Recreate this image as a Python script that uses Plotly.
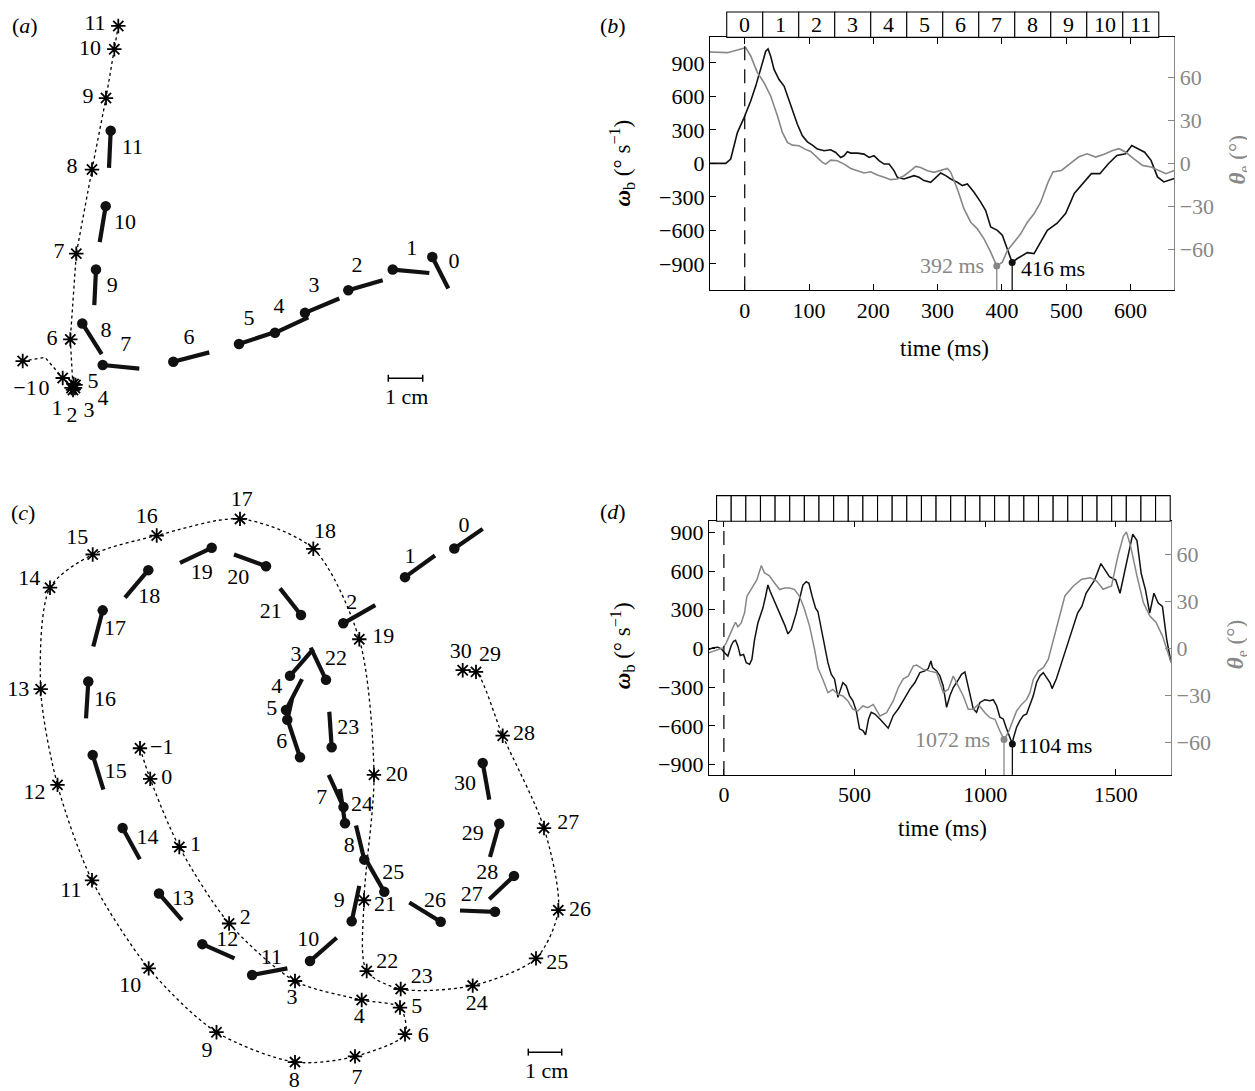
import plotly.graph_objects as go

W, H = 1255, 1091
OFF = 8  # the page body margin shifts the figure by this many pixels
FONT = "Liberation Serif"
GRAY = "#878787"
BLACK = "#111111"

# ---------------- panel (a): trajectory (px-like units of the panel) ----------------
star_a_id = [-1, 0, 1, 2, 3, 4, 5, 6, 7, 8, 9, 10, 11]
star_a_x = [22.7, 62.7, 71.5, 73.0, 75.0, 75.5, 73.5, 70.3, 76.3, 92.0, 106.0, 114.3, 118.3]
star_a_y = [361.0, 378.0, 388.0, 390.0, 388.0, 385.0, 384.0, 339.3, 253.3, 169.0, 97.3, 48.3, 25.0]
star_a_lx = [25, 44, 57, 72, 89, 103, 93, 52, 59, 72, 88, 90, 95]
star_a_ly = [390, 390, 410, 417, 412, 400, 383, 339, 252, 167, 97, 49, 24]
path_a_x = [22.7, 45.0, 62.7, 73.0, 70.3, 76.3, 92.0, 106.0, 114.3, 118.3]
path_a_y = [361.0, 357.3, 378.0, 387.0, 339.3, 253.3, 169.0, 97.3, 48.3, 25.0]

lol_a_id = list(range(12))
lol_a_dx = [432.3, 392.7, 348.3, 305.0, 275.0, 239.0, 173.3, 102.7, 82.3, 96.0, 105.7, 110.7]
lol_a_dy = [256.7, 269.3, 290.0, 312.7, 332.7, 344.0, 361.7, 365.0, 323.3, 269.3, 205.7, 130.0]
lol_a_ex = [448.3, 429.3, 382.7, 339.3, 308.3, 270.7, 209.3, 139.3, 101.7, 94.3, 99.7, 109.0]
lol_a_ey = [288.3, 272.7, 280.0, 298.3, 317.3, 333.3, 352.3, 368.7, 354.0, 305.0, 241.7, 167.3]
lol_a_lx = [454, 411.7, 357, 314, 279, 249, 189, 125.7, 106, 112.3, 125, 132.3]
lol_a_ly = [262, 249, 266, 286, 307, 319, 338, 345.7, 331.7, 286.7, 222.7, 148.3]

# ---------------- panel (c) ----------------
star_c_id = list(range(-1, 31))
star_c_x = [140.0, 150.2, 179.3, 229.1, 295.0, 361.7, 400.0, 405.0, 355.0, 295.0, 216.5, 148.7, 92.0,
            57.5, 40.7, 50.0, 92.7, 156.7, 240.0, 313.3, 359.3, 374.0, 364.0, 366.7, 400.7, 472.7,
            536.0, 558.3, 544.0, 502.7, 476.0, 462.7]
star_c_y = [749.3, 780.0, 848.3, 925.0, 982.7, 1001.7, 1009.3, 1036.0, 1058.3, 1064.0, 1034.0, 970.0,
            881.7, 786.0, 690.0, 588.3, 555.0, 536.0, 519.3, 549.3, 640.0, 776.0, 901.7, 972.7, 990.7,
            987.3, 960.0, 911.7, 829.3, 736.7, 672.7, 671.0]
star_c_lx = [161.7, 166.7, 195.4, 245.2, 292, 359.3, 416.7, 423.3, 357, 294.3, 206.9, 130.3, 70.9,
             34.5, 18.3, 29.3, 77.3, 146.7, 241.7, 325, 383.3, 396.7, 385, 387.3, 421.7, 476.7,
             557.3, 580, 568.3, 524, 490, 460.7]
star_c_ly = [749.3, 779.3, 846.7, 920, 1000, 1019.3, 1009.3, 1038.3, 1080, 1083.3, 1053.3, 988.3,
             893.3, 795, 691, 580, 539.3, 518.3, 500.7, 532.7, 638.3, 776.7, 906.7, 964, 979.3,
             1006.7, 965, 911.7, 825, 735, 656, 653.3]

lol_c_id = list(range(31))
lol_c_dx = [454.3, 405.0, 343.3, 290.0, 286.0, 287.3, 300.0, 343.5, 364.3, 351.7, 310.0, 252.1, 202.3,
            159.0, 122.6, 92.7, 88.3, 102.7, 148.3, 211.7, 266.0, 301.0, 326.0, 331.7, 345.0, 384.3,
            440.7, 495.0, 514.0, 499.3, 482.7]
lol_c_dy = [549.0, 577.7, 624.0, 676.7, 711.0, 720.7, 758.3, 808.3, 861.0, 922.7, 962.7, 976.7, 945.7,
            895.0, 829.3, 756.0, 682.3, 611.0, 570.7, 548.3, 566.7, 615.7, 680.7, 748.3, 824.5, 893.3,
            923.3, 913.3, 877.3, 825.0, 764.0]
lol_c_ex = [482.7, 435.0, 375.3, 313.3, 302.0, 292.0, 288.0, 328.7, 356.0, 359.3, 336.7, 287.4, 234.5,
            182.0, 139.8, 103.4, 86.0, 93.3, 125.0, 180.0, 234.0, 280.0, 310.7, 329.3, 340.0, 366.5,
            409.3, 460.0, 489.3, 490.0, 489.3]
lol_c_ey = [529.3, 556.0, 605.7, 650.0, 680.0, 700.0, 722.0, 776.0, 826.7, 887.3, 939.3, 970.0, 960.0,
            921.7, 860.7, 790.7, 719.3, 647.3, 598.3, 563.3, 555.0, 589.0, 648.3, 712.7, 790.0, 862.0,
            904.0, 912.0, 900.7, 858.3, 800.7]
lol_c_lx = [464, 410, 351.7, 296, 276.7, 271.7, 281.7, 321.7, 349.3, 339.3, 308.3, 271.3, 227.2,
            183.1, 147.5, 115.7, 105, 115, 149.3, 201.7, 238.3, 270.7, 336, 348.3, 362, 393.3,
            435, 471.7, 487.3, 472.7, 465]
lol_c_ly = [526.7, 558.3, 604, 656.7, 688.3, 710, 743.3, 800, 848.3, 902.7, 941.7, 960, 941.7,
            900.7, 839.3, 774, 701.7, 630.7, 598.3, 574.3, 579, 612.7, 660.7, 729.3, 806.7, 875,
            902.7, 897.3, 875, 836, 785.7]

# ---------------- panel (b): time series ----------------
frame_ms = 56
frames_b = list(range(12))
frames_d = list(range(31))

b_omega = [(-54, 0), (-29.5, 0), (-21.8, 39), (-11.4, 276), (-1, 410), (9.3, 558), (17.1, 692), (24.9, 855),
           (32.7, 1004), (36.3, 1025), (40.4, 959), (45.6, 841), (53.4, 751), (61.2, 692), (66.4, 603),
           (74.1, 484), (81.9, 350), (89.7, 247), (97.5, 193), (105.2, 163), (113, 128), (123.4, 113),
           (133.7, 122), (141.5, 98), (149.3, 53), (154.5, 68), (159.7, 104), (164.9, 92), (175.2, 92),
           (185.6, 83), (193.4, 53), (201.1, 68), (208.9, 24), (216.7, -6), (224.5, -6), (232.2, -65),
           (237.4, -125), (247.8, -140), (255.6, -125), (263.3, -110), (271.1, -125), (278.9, -154),
           (289.3, -169), (297, -125), (304.8, -86), (312.6, -110), (320.4, -140), (330.7, -169),
           (338.5, -199), (346.3, -184), (356.7, -258), (367, -347), (374.8, -422), (382.6, -570),
           (393, -600), (400.7, -644), (408.5, -763), (416, -888), (424, -852), (431.8, -823),
           (439.6, -799), (450, -808), (460.3, -704), (470.7, -600), (486, -536), (499.3, -447),
           (512.6, -269), (525.9, -181), (539.1, -92), (552.4, -92), (565.6, -3), (578.9, 71),
           (592.2, 86), (602, 160), (612, 130), (622, 100), (632, 27), (642, -121), (651.9, -166),
           (658.5, -151), (668, -136)]
b_theta = [(-54, 77.5), (-27, 77), (-11.4, 78.8), (1.6, 80.5), (9.3, 74.7), (19.7, 63.1), (30, 56.2),
           (40.4, 46.9), (50.8, 33.1), (58.6, 21.5), (66.4, 14.6), (74.1, 12.7), (84.5, 12.3), (93.7, 9.9),
           (102.6, 8.3), (113, 4.2), (120.8, 0.7), (126, -0.5), (133.7, 2.3), (144.1, 1.8), (154.5, -0.5),
           (164.9, -3.5), (175.2, -5.1), (185.6, -6.7), (195.9, -5.8), (206.3, -8.1), (216.7, -9.7),
           (227, -11.3), (237.4, -10.9), (247.8, -8.6), (258.2, -5.1), (266, -2.1), (273.7, -2.8),
           (284.1, -5.1), (294.5, -6.2), (304.8, -5.1), (315.2, -3.5), (320.4, -6.2), (330.7, -17.8),
           (341.1, -31.7), (351.5, -40.9), (361.8, -45.5), (372.2, -52.5), (382.6, -61.7), (392, -71.4),
           (400.7, -68.7), (408.5, -60.6), (418.9, -54.8), (429.2, -49), (439.6, -40.9), (450, -35.1),
           (460.3, -27), (471.7, -13.2), (479.4, -6), (492.7, -4.9), (506, -0.2), (519.2, 4.4),
           (532.5, 6.7), (545.8, 4.4), (559, 6.3), (572.3, 9), (582.2, 10.2), (592.2, 7.9), (605.4, 3.2),
           (618.7, -1.4), (632, -2.5), (645.2, -4.9), (655.2, -7.2), (668, -4.9)]
b_min_omega = (416, -888)
b_min_theta = (392, -71.4)

# ---------------- panel (d) ----------------
d_omega = [(-57.4, -8), (-42, 5), (-23, 10), (-10.2, -3), (2.6, -33), (15.3, -59), (28.1, 23), (37, 56),
           (44.6, 64), (53.6, 18), (62.5, -54), (75.3, -46), (85.5, -110), (98.2, -123), (107.1, -85),
           (117.3, 69), (130.1, 197), (149.2, 313), (159.4, 403), (168.4, 492), (177.3, 441), (193.9, 364),
           (213, 287), (232.2, 185), (245, 113), (257.7, 146), (276.8, 274), (289.6, 377), (302.3, 492),
           (315.1, 518), (325.3, 505), (338, 403), (350.8, 313), (359.7, 287), (372.5, 146), (385.3, 18),
           (398, -110), (410.7, -200), (423.5, -238), (436.3, -379), (446.4, -315), (455.4, -264),
           (468.1, -290), (480.9, -367), (493.6, -405), (506.4, -482), (519.1, -623), (531.9, -636),
           (542.1, -669), (553.6, -546), (563.8, -495), (577.9, -508), (597, -546), (616.2, -585),
           (628.9, -618), (648, -520), (667.2, -469), (686.3, -405), (699.1, -354), (711.9, -315),
           (731, -264), (750.1, -187), (769.3, -174), (782, -156), (792.2, -97), (798.6, -149),
           (813.9, -174), (826.6, -213), (839.4, -290), (852.2, -456), (864.9, -367), (877.7, -303),
           (890.4, -264), (909.6, -200), (922.3, -182), (931.3, -264), (941.5, -367), (954.3, -469),
           (967, -495), (979.8, -418), (998.9, -397), (1018, -405), (1030.8, -397), (1043.6, -444),
           (1056.3, -533), (1069.1, -546), (1081.8, -623), (1097.1, -700), (1104, -740), (1107.3, -700),
           (1120.1, -610), (1132.8, -559), (1145.6, -520), (1158.4, -508), (1171.1, -444), (1183.9, -367),
           (1196.6, -264), (1209.4, -213), (1222.2, -187), (1235, -226), (1247.7, -264), (1256, -311),
           (1272.4, -235), (1288.7, -133), (1304.9, -31), (1321.1, 71), (1337.4, 173), (1353.6, 275),
           (1369.8, 326), (1386, 428), (1402.3, 479), (1418.5, 530), (1442.8, 658), (1459, 607),
           (1475.3, 556), (1499.6, 530), (1515.9, 428), (1532.1, 581), (1548.3, 734), (1564.6, 887),
           (1580.8, 836), (1597, 581), (1613.3, 454), (1629.5, 275), (1645.7, 428), (1662, 352),
           (1678.2, 326), (1694.5, 71), (1711, -107)]
d_theta = [(-57.4, -2.8), (-29.3, -1.3), (-3.8, 0.4), (8.9, 3.6), (21.7, 8.9), (34.4, 13.2), (44.6, 16.8),
           (53.6, 13.8), (66.3, 16.4), (79.1, 22.8), (88, 33.4), (98.2, 36.6), (111, 39.8), (126.3, 44),
           (142.9, 53), (155.6, 48.3), (173.1, 46.6), (193.9, 41.9), (213, 37.7), (232.2, 38.7),
           (251.3, 38.7), (270.4, 37.7), (289.6, 33.4), (308.7, 24.9), (327.8, 14.3), (347, -0.6),
           (359.7, -12.3), (378.8, -19.8), (398, -28.3), (417.1, -26.2), (436.3, -29.4), (455.4, -30.4),
           (474.5, -33.6), (493.6, -38.9), (512.8, -40), (531.9, -36.8), (551, -37.9), (571.5, -35.8),
           (597, -43.2), (622.6, -41.1), (648, -33.6), (667.2, -25.1), (686.3, -19.4), (705.5, -17.7),
           (724.6, -11.3), (737.4, -10.6), (762.9, -13.4), (788.4, -14.5), (813.9, -15.5), (839.4, -28.3),
           (858.6, -26.2), (877.7, -17.7), (896.8, -24), (916, -30.4), (935.1, -38.9), (954.3, -38.9),
           (973.4, -35.8), (998.9, -41.1), (1018, -44.3), (1037.2, -45.3), (1056.3, -52.8), (1072, -58.3),
           (1088.2, -53.8), (1107.3, -45.3), (1120.1, -40), (1139.2, -35.8), (1158.4, -32.6),
           (1171.1, -28.3), (1183.9, -19.8), (1203, -14.5), (1222.2, -12.3), (1241.3, -7), (1256, 2),
           (1280.6, 18), (1304.9, 33.6), (1337.4, 40), (1369.8, 44.3), (1402.3, 45.3), (1426.6, 43.2),
           (1451, 37.9), (1483.4, 40), (1507.8, 59.2), (1528.9, 71.9), (1540.3, 74.5), (1556.5, 65.5),
           (1580.8, 46.4), (1605.2, 29.4), (1629.5, 20.9), (1653.9, 16.6), (1678.2, 8.1), (1711, -8.9)]
d_min_omega = (1104, -740)
d_min_theta = (1072, -58.3)

omega_ticks = [-900, -600, -300, 0, 300, 600, 900]
theta_ticks = [-60, -30, 0, 30, 60]
b_time_ticks = [0, 100, 200, 300, 400, 500, 600]
d_time_ticks = [0, 500, 1000, 1500]


def minus(v):
    return str(v).replace("-", "\u2212")


def px(x):
    return (x - OFF) / W


def py(y):
    return 1 - (y - OFF) / H


def segs(x0, y0, x1, y1):
    xs, ys = [], []
    for a, b, c, d in zip(x0, y0, x1, y1):
        xs += [a, c, None]
        ys += [b, d, None]
    return xs, ys


fig = go.Figure()
FS = 22
num_font = dict(family=FONT, size=FS, color="black")
star_marker = dict(symbol="asterisk-open", size=12, color="black", line=dict(color="black", width=1.8))

# ---- panel (a) ----
fig.add_trace(go.Scatter(x=path_a_x, y=path_a_y, mode="lines", xaxis="x", yaxis="y",
                         line=dict(color="black", width=1.3, dash="dot"), hoverinfo="skip"))
fig.add_trace(go.Scatter(x=star_a_x, y=star_a_y, mode="markers", xaxis="x", yaxis="y", marker=star_marker))
fig.add_trace(go.Scatter(x=star_a_lx, y=star_a_ly, mode="text", xaxis="x", yaxis="y",
                         text=[minus(i) for i in star_a_id], textfont=num_font, cliponaxis=False))
sx, sy = segs(lol_a_dx, lol_a_dy, lol_a_ex, lol_a_ey)
fig.add_trace(go.Scatter(x=sx, y=sy, mode="lines", xaxis="x", yaxis="y",
                         line=dict(color=BLACK, width=4.2)))
fig.add_trace(go.Scatter(x=lol_a_dx, y=lol_a_dy, mode="markers", xaxis="x", yaxis="y",
                         marker=dict(size=10.5, color=BLACK)))
fig.add_trace(go.Scatter(x=lol_a_lx, y=lol_a_ly, mode="text", xaxis="x", yaxis="y",
                         text=[str(i) for i in lol_a_id], textfont=num_font, cliponaxis=False))

# ---- panel (c) ----
fig.add_trace(go.Scatter(x=star_c_x, y=star_c_y, mode="lines", xaxis="x2", yaxis="y2",
                         line=dict(color="black", width=1.3, dash="dot", shape="spline", smoothing=0.8),
                         hoverinfo="skip"))
fig.add_trace(go.Scatter(x=star_c_x, y=star_c_y, mode="markers", xaxis="x2", yaxis="y2", marker=star_marker))
fig.add_trace(go.Scatter(x=star_c_lx, y=star_c_ly, mode="text", xaxis="x2", yaxis="y2",
                         text=[minus(i) for i in star_c_id], textfont=num_font, cliponaxis=False))
sx, sy = segs(lol_c_dx, lol_c_dy, lol_c_ex, lol_c_ey)
fig.add_trace(go.Scatter(x=sx, y=sy, mode="lines", xaxis="x2", yaxis="y2",
                         line=dict(color=BLACK, width=4.2)))
fig.add_trace(go.Scatter(x=lol_c_dx, y=lol_c_dy, mode="markers", xaxis="x2", yaxis="y2",
                         marker=dict(size=10.5, color=BLACK)))
fig.add_trace(go.Scatter(x=lol_c_lx, y=lol_c_ly, mode="text", xaxis="x2", yaxis="y2",
                         text=[str(i) for i in lol_c_id], textfont=num_font, cliponaxis=False))

# ---- panel (b) ----
fig.add_trace(go.Scatter(x=[p[0] for p in b_theta], y=[p[1] for p in b_theta], mode="lines",
                         xaxis="x3", yaxis="y4", line=dict(color=GRAY, width=1.6)))
fig.add_trace(go.Scatter(x=[p[0] for p in b_omega], y=[p[1] for p in b_omega], mode="lines",
                         xaxis="x3", yaxis="y3", line=dict(color=BLACK, width=1.6)))
fig.add_trace(go.Scatter(x=[b_min_theta[0]], y=[b_min_theta[1]], mode="markers", xaxis="x3", yaxis="y4",
                         marker=dict(size=7, color=GRAY), cliponaxis=False))
fig.add_trace(go.Scatter(x=[b_min_omega[0]], y=[b_min_omega[1]], mode="markers", xaxis="x3", yaxis="y3",
                         marker=dict(size=7, color=BLACK), cliponaxis=False))

# ---- panel (d) ----
fig.add_trace(go.Scatter(x=[p[0] for p in d_theta], y=[p[1] for p in d_theta], mode="lines",
                         xaxis="x4", yaxis="y6", line=dict(color=GRAY, width=1.5)))
fig.add_trace(go.Scatter(x=[p[0] for p in d_omega], y=[p[1] for p in d_omega], mode="lines",
                         xaxis="x4", yaxis="y5", line=dict(color=BLACK, width=1.5)))
fig.add_trace(go.Scatter(x=[d_min_theta[0]], y=[d_min_theta[1]], mode="markers", xaxis="x4", yaxis="y6",
                         marker=dict(size=7, color=GRAY), cliponaxis=False))
fig.add_trace(go.Scatter(x=[d_min_omega[0]], y=[d_min_omega[1]], mode="markers", xaxis="x4", yaxis="y5",
                         marker=dict(size=7, color=BLACK), cliponaxis=False))

shapes = []
annotations = []

B_RANGE_W = [-1136, 1128]
B_RANGE_T = [-88.2, 87.6]
D_RANGE_W = [-980, 986]
D_RANGE_T = [-80.9, 81.4]
shapes += [
    dict(type="line", xref="x3", yref="y4", x0=b_min_theta[0], x1=b_min_theta[0], y0=b_min_theta[1],
         y1=B_RANGE_T[0], line=dict(color=GRAY, width=1.3)),
    dict(type="line", xref="x3", yref="y3", x0=b_min_omega[0], x1=b_min_omega[0], y0=b_min_omega[1],
         y1=B_RANGE_W[0], line=dict(color=BLACK, width=1.3)),
    dict(type="line", xref="x4", yref="y6", x0=d_min_theta[0], x1=d_min_theta[0], y0=d_min_theta[1],
         y1=D_RANGE_T[0], line=dict(color=GRAY, width=1.3)),
    dict(type="line", xref="x4", yref="y5", x0=d_min_omega[0], x1=d_min_omega[0], y0=d_min_omega[1],
         y1=D_RANGE_W[0], line=dict(color=BLACK, width=1.3)),
    dict(type="line", xref="x3", yref="y3 domain", x0=0, x1=0, y0=0, y1=1,
         line=dict(color=BLACK, width=1.3, dash="14px,9px")),
    dict(type="line", xref="x4", yref="y5 domain", x0=0, x1=0, y0=0, y1=1,
         line=dict(color=BLACK, width=1.3, dash="14px,9px")),
]

TF = dict(family=FONT, size=FS, color="black")
TFG = dict(family=FONT, size=FS, color=GRAY)
TITLE_F = dict(family=FONT, size=23, color="black")
TITLE_FG = dict(family=FONT, size=23, color=GRAY)

# frame strips
for k in frames_b:
    shapes.append(dict(type="rect", xref="x3", yref="paper", x0=k * frame_ms - frame_ms / 2,
                       x1=k * frame_ms + frame_ms / 2, y0=py(36.5), y1=py(11),
                       line=dict(color="black", width=1.1), fillcolor="white", layer="above"))
    annotations.append(dict(x=k * frame_ms, y=py(24), xref="x3", yref="paper", text=str(k), showarrow=False,
                            xanchor="center", yanchor="middle", font=TF))
for k in frames_d:
    shapes.append(dict(type="rect", xref="x4", yref="paper", x0=k * frame_ms - frame_ms / 2,
                       x1=k * frame_ms + frame_ms / 2, y0=py(521.7), y1=py(496),
                       line=dict(color="black", width=1.1), fillcolor="white", layer="above"))

# scale bars
for (x0, x1, y, lx, ly, xr, yr) in [(388.3, 422.7, 378.3, 406, 397, "x", "y"),
                                   (528.3, 561.7, 1054, 546, 1072, "x2", "y2")]:
    shapes.append(dict(type="line", xref=xr, yref=yr, x0=x0, x1=x1, y0=y, y1=y, line=dict(color="black", width=1.5)))
    shapes.append(dict(type="line", xref=xr, yref=yr, x0=x0, x1=x0, y0=y - 3.5, y1=y + 3.5, line=dict(color="black", width=1.5)))
    shapes.append(dict(type="line", xref=xr, yref=yr, x0=x1, x1=x1, y0=y - 3.5, y1=y + 3.5, line=dict(color="black", width=1.5)))
    annotations.append(dict(x=lx, y=ly, xref=xr, yref=yr, text="1 cm", showarrow=False,
                            xanchor="center", yanchor="middle", font=TF))


def pann(txt, x, y, font, angle=0):
    return dict(x=px(x), y=py(y), xref="paper", yref="paper", text=txt, showarrow=False, font=font,
                xanchor="center", yanchor="middle", textangle=angle)


for txt, x, y in [("(<i>a</i>)", 25, 25), ("(<i>b</i>)", 613, 25), ("(<i>c</i>)", 23, 513),
                  ("(<i>d</i>)", 613, 511.7)]:
    annotations.append(pann(txt, x, y, TF))

OMEGA_T = "<b><i>ω</i></b><sub>b</sub> (° s<sup>−1</sup>)"
THETA_T = "<b><i>θ</i></b><sub>e</sub> (°)"
annotations += [
    pann("time (ms)", 944, 348, TITLE_F),
    pann("time (ms)", 942, 830, TITLE_F),
    pann(OMEGA_T, 622, 163, TITLE_F, -90),
    pann(OMEGA_T, 622, 647, TITLE_F, -90),
    pann(THETA_T, 1239, 160, TITLE_FG, -90),
    pann(THETA_T, 1237, 646, TITLE_FG, -90),
    dict(x=376, y=-913, xref="x3", yref="y3", xanchor="right", yanchor="middle", text="392 ms",
         showarrow=False, font=TFG),
    dict(x=426, y=-939, xref="x3", yref="y3", xanchor="left", yanchor="middle", text="416 ms",
         showarrow=False, font=TF),
    dict(x=1026, y=-707, xref="x4", yref="y5", xanchor="right", yanchor="middle", text="1072 ms",
         showarrow=False, font=TFG),
    dict(x=1117, y=-753, xref="x4", yref="y5", xanchor="left", yanchor="middle", text="1104 ms",
         showarrow=False, font=TF),
]

hidden = dict(visible=False, showgrid=False, zeroline=False)
time_ax = dict(showgrid=False, zeroline=False, showline=True, linecolor="black", linewidth=1.2,
               mirror="ticks", ticks="inside", ticklen=6, tickcolor="black", tickfont=TF)
w_ax = dict(showgrid=False, zeroline=False, showline=True, linecolor="black", linewidth=1.2,
            ticks="inside", ticklen=6, tickcolor="black", tickfont=TF,
            tickvals=omega_ticks, ticktext=[minus(v) for v in omega_ticks])
t_ax = dict(showgrid=False, zeroline=False, showline=True, linecolor=GRAY, linewidth=1.2, side="right",
            ticks="inside", ticklen=6, tickcolor=GRAY, tickfont=TFG,
            tickvals=theta_ticks, ticktext=[minus(v) for v in theta_ticks])

fig.update_layout(
    width=W, height=H, margin=dict(l=0, r=0, t=0, b=0), paper_bgcolor="white", plot_bgcolor="rgba(0,0,0,0)",
    showlegend=False, shapes=shapes, annotations=annotations,
    xaxis=dict(hidden, domain=[px(OFF), px(608)], range=[OFF, 608], anchor="y"),
    yaxis=dict(hidden, domain=[py(458), py(OFF)], range=[458, OFF], anchor="x"),
    xaxis2=dict(hidden, domain=[px(OFF), px(608)], range=[OFF, 608], anchor="y2"),
    yaxis2=dict(hidden, domain=[py(H + OFF), py(468)], range=[H + OFF, 468], anchor="x2"),
    xaxis3=dict(time_ax, domain=[px(710), px(1174.2)], range=[-54, 668], anchor="y3",
                tickvals=b_time_ticks),
    yaxis3=dict(w_ax, domain=[py(290), py(36.5)], range=B_RANGE_W, anchor="x3"),
    yaxis4=dict(t_ax, range=B_RANGE_T, overlaying="y3", anchor="x3"),
    xaxis4=dict(time_ax, domain=[px(709), px(1171)], range=[-57, 1711], anchor="y5",
                tickvals=d_time_ticks),
    yaxis5=dict(w_ax, domain=[py(776), py(521.7)], range=D_RANGE_W, anchor="x4"),
    yaxis6=dict(t_ax, range=D_RANGE_T, overlaying="y5", anchor="x4"),
)

fig.write_html("out.html")
